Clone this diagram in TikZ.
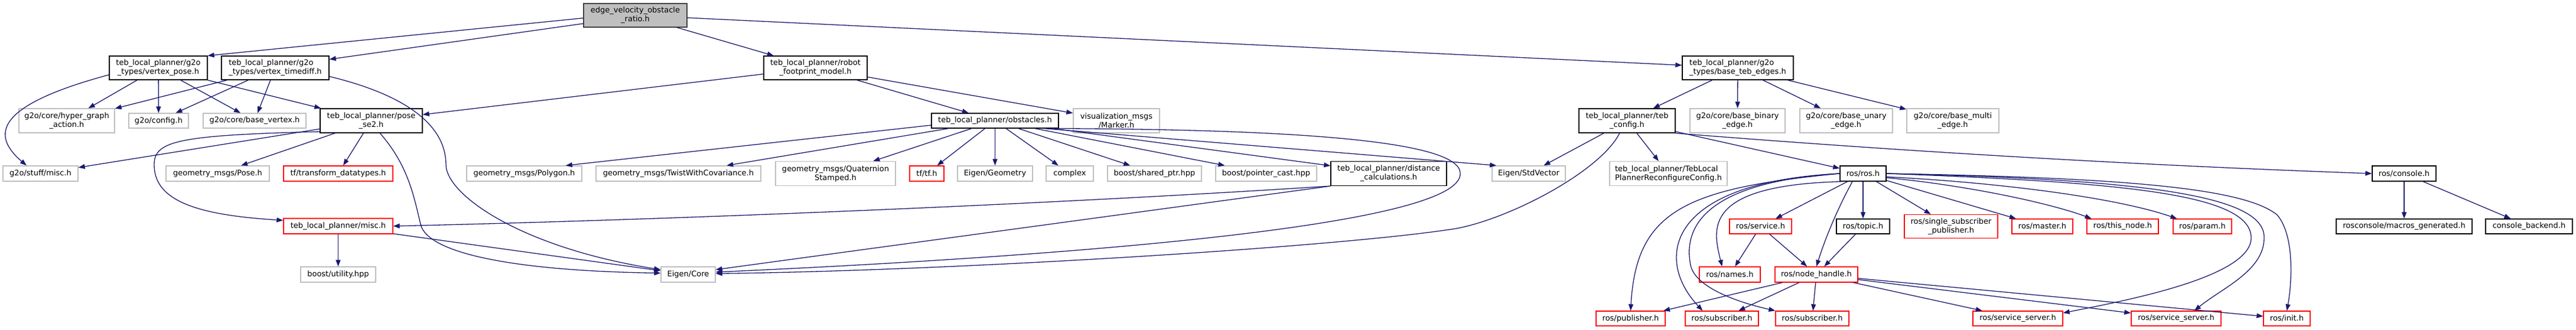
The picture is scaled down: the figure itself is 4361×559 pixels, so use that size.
\documentclass[tikz,border=0pt]{standalone}
\usepackage{fontspec}
\setmainfont{DejaVu Sans}
\usetikzlibrary{arrows.meta}
\definecolor{edgeblue}{HTML}{191970}
\definecolor{leafgray}{HTML}{BFBFBF}
\definecolor{rootfill}{HTML}{BFBFBF}
\definecolor{rootline}{HTML}{404040}
\newcommand{\graphfont}{\fontsize{13}{15}\selectfont}

\begin{document}
\begin{tikzpicture}[x=1pt,y=1pt,>={Triangle[length=11pt,width=8pt]}]
\tikzstyle{incl}=[->,draw=edgeblue,line width=1.3pt]
\tikzstyle{docfile}=[draw=black,fill=white,line width=1.3pt,inner sep=0pt,align=center,font=\graphfont]
\tikzstyle{extfile}=[docfile,draw=leafgray]
\tikzstyle{cutfile}=[docfile,draw=red]
\tikzstyle{rootfile}=[docfile,draw=rootline,fill=rootfill]
\useasboundingbox (0,0) rectangle (4361,559);
%%%%%%%%%%%%%%%%%%%%%%%%%%%%%%%%%%%%%%%%%%%%%%%%%%%%%%%%%%%%%%%%%%%%%%%%%%%%%%%%%%%%%%%%
%% Draw File Nodes
%%%%%%%%%%%%%%%%%%%%%%%%%%%%%%%%%%%%%%%%%%%%%%%%%%%%%%%%%%%%%%%%%%%%%%%%%%%%%%%%%%%%%%%%
% root header
\node[rootfile,minimum width=175pt,minimum height=40pt] (top) at (1075.5,533) {edge\_velocity\_obstacle\\\_ratio.h};

% second row
\node[docfile,minimum width=166pt,minimum height=40pt] (vpose) at (268,444) {teb\_local\_planner/g2o\\\_types/vertex\_pose.h};
\node[docfile,align=left,minimum width=182pt,minimum height=40pt] (vtime) at (466,444) {teb\_local\_planner/g2o\\\_types/vertex\_timediff.h};
\node[docfile,minimum width=175pt,minimum height=40pt] (robot) at (1380.5,444) {teb\_local\_planner/robot\\\_footprint\_model.h};
\node[docfile,align=left,minimum width=188pt,minimum height=40pt] (bedges) at (2942,444) {teb\_local\_planner/g2o\\\_types/base\_teb\_edges.h};

% third row
\node[extfile,minimum width=162pt,minimum height=41pt] (hga) at (113,354.5) {g2o/core/hyper\_graph\\\_action.h};
\node[extfile,minimum width=101pt,minimum height=25pt] (config) at (268.5,354.5) {g2o/config.h};
\node[extfile,minimum width=174pt,minimum height=25pt] (bvertex) at (431,354.5) {g2o/core/base\_vertex.h};
\node[docfile,minimum width=173pt,minimum height=41pt] (pose) at (628.5,354.5) {teb\_local\_planner/pose\\\_se2.h};
\node[docfile,minimum width=215pt,minimum height=25pt] (obst) at (1684.5,354.5) {teb\_local\_planner/obstacles.h};
\node[extfile,minimum width=146pt,minimum height=41pt] (marker) at (1890,354.5) {visualization\_msgs\\/Marker.h};
\node[docfile,minimum width=163pt,minimum height=41pt] (tebcfg) at (2754.5,354.5) {teb\_local\_planner/teb\\\_config.h};
\node[extfile,minimum width=161pt,minimum height=41pt] (binary) at (2941.5,354.5) {g2o/core/base\_binary\\\_edge.h};
\node[extfile,minimum width=157pt,minimum height=41pt] (unary) at (3125.5,354.5) {g2o/core/base\_unary\\\_edge.h};
\node[extfile,minimum width=156pt,minimum height=41pt] (multi) at (3306,354.5) {g2o/core/base\_multi\\\_edge.h};

% fourth row
\node[extfile,minimum width=127pt,minimum height=26pt] (stuffmisc) at (68.5,265) {g2o/stuff/misc.h};
\node[extfile,minimum width=175pt,minimum height=26pt] (gpose) at (368.5,265) {geometry\_msgs/Pose.h};
\node[cutfile,minimum width=185pt,minimum height=26pt] (tfdt) at (572.5,265) {tf/transform\_datatypes.h};
\node[extfile,minimum width=195pt,minimum height=26pt] (polygon) at (887.5,265) {geometry\_msgs/Polygon.h};
\node[extfile,minimum width=279pt,minimum height=26pt] (twist) at (1148.5,265) {geometry\_msgs/TwistWithCovariance.h};
\node[extfile,minimum width=203pt,minimum height=41pt] (quat) at (1414.5,265) {geometry\_msgs/Quaternion\\Stamped.h};
\node[cutfile,minimum width=58pt,minimum height=26pt] (tftf) at (1569,265) {tf/tf.h};
\node[extfile,minimum width=127pt,minimum height=26pt] (egeom) at (1684.5,265) {Eigen/Geometry};
\node[extfile,minimum width=80pt,minimum height=26pt] (complex) at (1811,265) {complex};
\node[extfile,minimum width=159pt,minimum height=26pt] (shptr) at (1954.5,265) {boost/shared\_ptr.hpp};
\node[extfile,minimum width=171pt,minimum height=26pt] (pcast) at (2143.5,265) {boost/pointer\_cast.hpp};
\node[docfile,minimum width=196pt,minimum height=41pt] (dist) at (2351,265) {teb\_local\_planner/distance\\\_calculations.h};
\node[extfile,minimum width=124pt,minimum height=26pt] (stdvec) at (2588,265) {Eigen/StdVector};
\node[extfile,align=left,minimum width=199pt,minimum height=41pt] (reconf) at (2824.5,265) {teb\_local\_planner/TebLocal\\PlannerReconfigureConfig.h};
\node[docfile,minimum width=78pt,minimum height=26pt] (ros) at (3154,265) {ros/ros.h};
\node[docfile,minimum width=108pt,minimum height=26pt] (console) at (4070,265) {ros/console.h};

% fifth row
\node[cutfile,minimum width=185pt,minimum height=26pt] (tebmisc) at (572.5,176) {teb\_local\_planner/misc.h};
\node[cutfile,minimum width=105pt,minimum height=25pt] (service) at (2980.5,175.5) {ros/service.h};
\node[docfile,minimum width=90pt,minimum height=25pt] (topic) at (3154,175.5) {ros/topic.h};
\node[cutfile,minimum width=158pt,minimum height=40pt] (ssp) at (3303,175.5) {ros/single\_subscriber\\\_publisher.h};
\node[cutfile,minimum width=103pt,minimum height=25pt] (master) at (3457.5,175.5) {ros/master.h};
\node[cutfile,minimum width=121pt,minimum height=25pt] (thisnode) at (3593.5,175.5) {ros/this\_node.h};
\node[cutfile,minimum width=99pt,minimum height=25pt] (param) at (3728.5,175.5) {ros/param.h};
\node[docfile,minimum width=230pt,minimum height=25pt] (macros) at (4070,175.5) {rosconsole/macros\_generated.h};
\node[docfile,minimum width=147pt,minimum height=25pt] (backend) at (4281.5,175.5) {console\_backend.h};

% sixth row
\node[extfile,minimum width=127pt,minimum height=26pt] (boostutil) at (572.5,94) {boost/utility.hpp};
\node[extfile,minimum width=92pt,minimum height=26pt] (ecore) at (1165,94) {Eigen/Core};
\node[cutfile,minimum width=103pt,minimum height=26pt] (names) at (2928.5,94) {ros/names.h};
\node[cutfile,minimum width=140pt,minimum height=26pt] (nh) at (3075,94) {ros/node\_handle.h};

% bottom row
\node[cutfile,minimum width=117pt,minimum height=25pt] (publisher) at (2760.5,19.5) {ros/publisher.h};
\node[cutfile,minimum width=124pt,minimum height=25pt] (sub1) at (2915,19.5) {ros/subscriber.h};
\node[cutfile,minimum width=124pt,minimum height=25pt] (sub2) at (3068,19.5) {ros/subscriber.h};
\node[cutfile,minimum width=152pt,minimum height=25pt] (ss1) at (3416,19.5) {ros/service\_server.h};
\node[cutfile,minimum width=152pt,minimum height=25pt] (ss2) at (3684,19.5) {ros/service\_server.h};
\node[cutfile,minimum width=79pt,minimum height=25pt] (init) at (3871.5,19.5) {ros/init.h};
%%%%%%%%%%%%%%%%%%%%%%%%%%%%%%%%%%%%%%%%%%%%%%%%%%%%%%%%%%%%%%%%%%%%%%%%%%%%%%%%%%%%%%%%

%%%%%%%%%%%%%%%%%%%%%%%%%%%%%%%%%%%%%%%%%%%%%%%%%%%%%%%%%%%%%%%%%%%%%%%%%%%%%%%%%%%%%%%%
%%% Draw include edges
%%%%%%%%%%%%%%%%%%%%%%%%%%%%%%%%%%%%%%%%%%%%%%%%%%%%%%%%%%%%%%%%%%%%%%%%%%%%%%%%%%%%%%%%
% root
\draw[incl] (top.183) -- (vpose.north east);
\draw[incl] (top.189) -- (vtime.9);
\draw[incl] (top) -- (robot);
\draw[incl] (top) -- (bedges);

% g2o vertices
\draw[incl] (vpose.188) .. controls (-10,380) and (-15,330) .. (stuffmisc.150);
\draw[incl] (vpose) -- (hga);
\draw[incl] (vpose) -- (config);
\draw[incl] (vpose) -- (bvertex);
\draw[incl] (vpose) -- (pose);
\draw[incl] (vtime) -- (hga);
\draw[incl] (vtime) -- (config);
\draw[incl] (vtime) -- (bvertex);
\draw[incl] (vtime.-9) .. controls (700,395) and (755,340) .. (755,280) .. controls (755,230) and (880,140) .. (ecore.170);

% footprint model
\draw[incl] (robot) -- (pose);
\draw[incl] (robot) -- (obst);
\draw[incl] (robot) -- (marker);

% pose_se2
\draw[incl] (pose) -- (stuffmisc);
\draw[incl] (pose) -- (gpose);
\draw[incl] (pose) -- (tfdt);
\draw[incl] (pose.192) .. controls (300,330) and (261,320) .. (261,280) .. controls (261,220) and (330,195) .. (tebmisc.174);
\draw[incl] (pose.-55) .. controls (690,280) and (700,230) .. (712,179) .. controls (724,128) and (880,100) .. (ecore.177);
\draw[incl] (tebmisc) -- (boostutil);
\draw[incl] (tebmisc) -- (ecore);

% obstacles
\draw[incl] (obst.184) -- (polygon.11);
\draw[incl] (obst) -- (twist);
\draw[incl] (obst) -- (quat);
\draw[incl] (obst) -- (tftf);
\draw[incl] (obst) -- (egeom);
\draw[incl] (obst) -- (complex);
\draw[incl] (obst) -- (shptr);
\draw[incl] (obst) -- (pcast);
\draw[incl] (obst) -- (dist);
\draw[incl] (obst.-9) -- (stdvec.166);
\draw[incl] (obst.-8) .. controls (2200,340) and (2470,320) .. (2472,266) .. controls (2480,170) and (1700,120) .. (ecore.5);
\draw[incl] (dist.south west) .. controls (1777,213) and (1143,187) .. (tebmisc.east);
\draw[incl] (dist.south west) -- (ecore.10);

% base edges and config
\draw[incl] (bedges) -- (tebcfg);
\draw[incl] (bedges) -- (binary);
\draw[incl] (bedges) -- (unary);
\draw[incl] (bedges) -- (multi);
\draw[incl] (tebcfg) -- (stdvec);
\draw[incl] (tebcfg) -- (reconf);
\draw[incl] (tebcfg) -- (ros);
\draw[incl] (tebcfg.south east) .. controls (3229,302) and (3623,279) .. (console.west);
\draw[incl] (tebcfg.-121) .. controls (2710,270) and (2560,190) .. (2466,172) .. controls (2266,140) and (1600,100) .. (ecore.2);

% ros
\draw[incl] (ros.west) .. controls (2850,240) and (2770,200) .. (publisher.north);
\draw[incl] (ros.west) .. controls (2820,250) and (2800,120) .. (sub1.158);
\draw[incl] (ros.west) .. controls (2880,250) and (2850,170) .. (2862,110) .. controls (2870,70) and (2950,45) .. (sub2.north west);
\draw[incl] (ros.200) .. controls (2880,245) and (2900,170) .. (names.134);
\draw[incl] (ros) -- (service);
\draw[incl] (ros.217) .. controls (3110,204) and (3090,155) .. (nh.north);
\draw[incl] (ros) -- (topic);
\draw[incl] (ros) -- (ssp);
\draw[incl] (ros) -- (master);
\draw[incl] (ros.-10) .. controls (3330,245) and (3470,215) .. (thisnode.166);
\draw[incl] (ros.-8) .. controls (3380,250) and (3580,225) .. (param.163);
\draw[incl] (ros.east) .. controls (3600,250) and (3811,230) .. (3811,156) .. controls (3811,90) and (3600,50) .. (ss1.7);
\draw[incl] (ros.east) .. controls (3650,255) and (3835,225) .. (3833,156) .. controls (3833,100) and (3760,70) .. (ss2.23);
\draw[incl] (ros.east) .. controls (3600,258) and (3800,240) .. (3855,195) .. controls (3885,160) and (3880,80) .. (init.north);
\draw[incl] (service) -- (names);
\draw[incl] (service) -- (nh);
\draw[incl] (topic) -- (nh);
\draw[incl] (nh) -- (publisher);
\draw[incl] (nh) -- (sub1);
\draw[incl] (nh) -- (sub2);
\draw[incl] (nh) -- (ss1);
\draw[incl] (nh) -- (ss2);
\draw[incl] (nh) -- (init);
\draw[incl] (console) -- (macros);
\draw[incl] (console) -- (backend);
%%%%%%%%%%%%%%%%%%%%%%%%%%%%%%%%%%%%%%%%%%%%%%%%%%%%%%%%%%%%%%%%%%%%%%%%%%%%%%%%%%%%%%%%

\end{tikzpicture}
\end{document}
